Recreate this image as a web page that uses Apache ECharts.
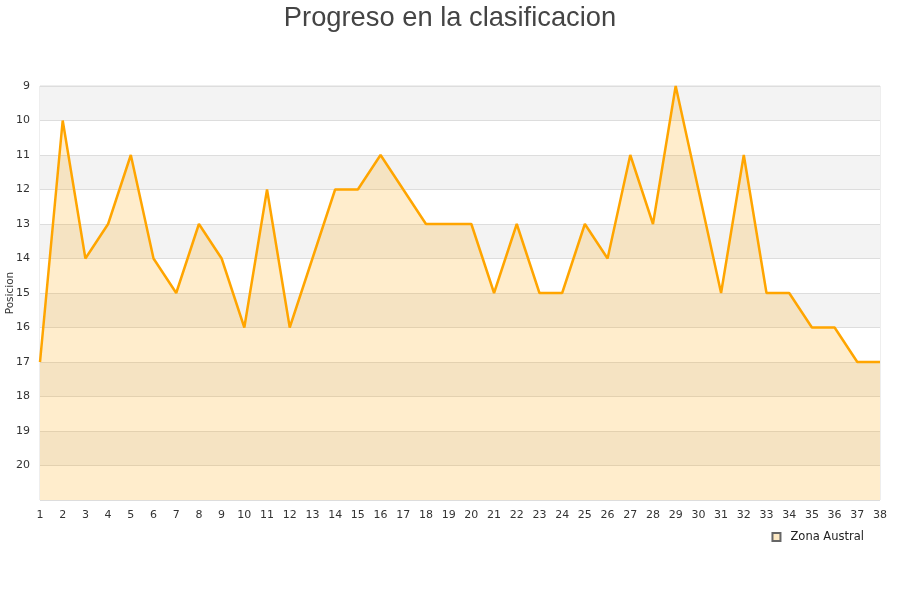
<!DOCTYPE html>
<html>
<head>
<meta charset="utf-8">
<script src="https://cdn.jsdelivr.net/npm/echarts@6/dist/echarts.min.js"></script>
<style>html,body{margin:0;padding:0;background:#fff}#main{width:900px;height:600px}</style>
</head>
<body>
<div id="main"></div>
<script>
var jornadas = ['1','2','3','4','5','6','7','8','9','10','11','12','13','14','15','16','17','18','19',
    '20','21','22','23','24','25','26','27','28','29','30','31','32','33','34','35','36','37','38'];
var posicion = [17,10,14,13,11,14,15,13,14,16,12,16,14,12,12,11,12,13,13,
    13,15,13,15,15,13,14,11,13,9,12,15,11,15,15,16,16,17,17];
var equipo = 'Zona Austral';

var option = {
    animation: false,
    title: {
        text: 'Progreso en la clasificacion',
        left: 'center',
        top: 0,
        textStyle: {fontFamily: 'Liberation Sans', fontSize: 27.3, fontWeight: 'normal', color: '#444'}
    },
    legend: {
        data: [{name: equipo, icon: 'rect'}],
        right: 32,
        top: 529,
        itemWidth: 8,
        itemHeight: 8,
        padding: [2, 4],
        textStyle: {fontFamily: 'DejaVu Sans', fontSize: 11.5, color: '#222', padding: [0, 0, 0, 5]}
    },
    grid: {
        left: 40, right: 20, top: 86, bottom: 100,
        outerBoundsMode: 'none',
        containLabel: false,
        show: true, borderColor: '#ddd', borderWidth: 1
    },
    xAxis: {
        type: 'category',
        data: jornadas,
        boundaryGap: false,
        axisLine: {show: false},
        axisTick: {show: false},
        axisLabel: {fontFamily: 'DejaVu Sans', fontSize: 11, color: '#333', margin: 10, interval: 0}
    },
    yAxis: {
        type: 'value',
        inverse: true,
        min: 9,
        max: 21,
        interval: 1,
        name: 'Posicion',
        nameLocation: 'middle',
        nameGap: 24,
        nameMoveOverlap: false,
        nameTextStyle: {fontFamily: 'DejaVu Sans', fontSize: 10.5, color: '#333'},
        axisLine: {show: false},
        axisTick: {show: false},
        axisLabel: {
            fontFamily: 'DejaVu Sans', fontSize: 11, color: '#333', margin: 10,
            formatter: function (v) { return v === 21 ? '' : v; }
        },
        splitLine: {lineStyle: {color: '#ddd'}},
        splitArea: {show: true, areaStyle: {color: ['#f3f3f3', '#ffffff']}}
    },
    series: [{
        name: equipo,
        type: 'line',
        data: posicion,
        symbol: 'none',
        itemStyle: {color: '#fde9c4', borderColor: '#666', borderWidth: 1},
        lineStyle: {color: '#ffa500', width: 2.5},
        areaStyle: {color: 'rgba(255,165,0,0.2)', opacity: 1, origin: 'end'}
    }]
};
var myChart = echarts.init(document.getElementById('main'));
myChart.setOption(option);
</script>
</body>
</html>
